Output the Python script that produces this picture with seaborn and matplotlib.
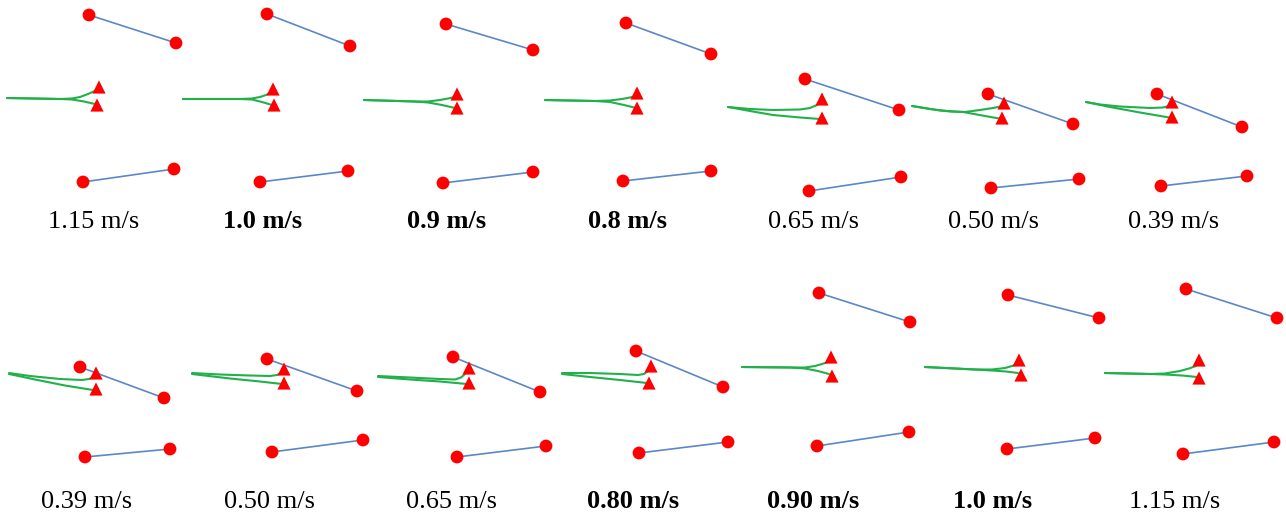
import numpy as np
import pandas as pd
import matplotlib
matplotlib.use("Agg")
import matplotlib.pyplot as plt
import seaborn as sns

# Panel labels (speed) and whether they are printed in bold
labels = ["1.15 m/s", "1.0 m/s", "0.9 m/s", "0.8 m/s", "0.65 m/s", "0.50 m/s", "0.39 m/s",
          "0.39 m/s", "0.50 m/s", "0.65 m/s", "0.80 m/s", "0.90 m/s", "1.0 m/s", "1.15 m/s"]
bold = [False, True, True, True, False, False, False,
        False, False, False, True, True, True, False]
label_x = [94, 263, 447, 627, 813, 994, 1174, 87, 270, 451, 633, 813, 993, 1175]
label_y = [222] * 7 + [502] * 7

# Upper segment (blue) end points, image pixel coords
upper_a = [(89, 15), (267, 14), (446, 24), (626, 23), (805, 79), (988, 94), (1157, 94),
           (80, 367), (267, 359), (453, 357), (636, 351), (819, 293), (1008, 295), (1186, 289)]
upper_b = [(176, 43), (350, 46), (533, 50), (711, 54), (899, 110), (1073, 124), (1242, 127),
           (164, 398), (357, 391), (540, 392), (723, 387), (910, 322), (1099, 318), (1277, 318)]

# Lower segment (blue) end points
lower_a = [(83, 182), (260, 182), (443, 183), (623, 181), (809, 191), (991, 188), (1161, 186),
           (85, 457), (272, 452), (457, 457), (639, 453), (817, 446), (1007, 449), (1183, 454)]
lower_b = [(174, 169), (348, 171), (533, 172), (711, 171), (901, 177), (1079, 179), (1247, 176),
           (170, 449), (363, 440), (546, 446), (728, 442), (909, 432), (1095, 438), (1274, 442)]

# Triangles at the ends of the green branches
tri_top = [(99, 88), (273, 90), (457, 95), (637, 94), (822, 100), (1004, 104), (1172, 103),
           (96, 374), (284, 370), (469, 369), (651, 367), (831, 358), (1019, 361), (1199, 361)]
tri_bot = [(97, 106), (274, 106), (457, 109), (637, 109), (822, 119), (1002, 119), (1172, 118),
           (96, 390), (284, 384), (469, 384), (649, 384), (832, 377), (1021, 376), (1199, 379)]

# Green branches
green_top = [
    [(7, 98), (60, 99), (72, 98.5), (80, 97), (88, 94), (97, 90)],
    [(183, 99), (240, 99), (252, 98.5), (260, 97), (266, 95), (272, 92)],
    [(364, 100), (415, 101.5), (428, 101.5), (440, 100), (448, 98.5), (455, 97)],
    [(545, 100), (595, 101), (610, 100.5), (622, 99), (630, 97.5), (636, 96)],
    [(728, 107), (750, 109), (773, 110), (800, 109.5), (810, 108), (817, 105), (821, 102)],
    [(912, 106), (930, 109), (950, 111.5), (965, 112), (980, 110), (993, 108), (1003, 106)],
    [(1086, 102), (1100, 104.5), (1120, 106.5), (1150, 108), (1163, 107.5), (1169, 106), (1172, 104)],
    [(9, 373), (30, 376), (60, 379), (82, 380), (89, 379), (93, 377), (95, 375)],
    [(192, 373), (220, 374.5), (250, 375.5), (270, 376), (277, 375), (281, 373)],
    [(378, 376), (410, 377.5), (440, 379), (455, 379.5), (461, 377.5), (465, 374), (467, 371)],
    [(562, 373), (590, 373), (620, 374), (638, 375), (644, 374), (648, 371)],
    [(742, 367), (790, 367.5), (805, 367.5), (815, 366), (822, 364), (828, 362)],
    [(925, 367), (975, 369.5), (992, 369.5), (1005, 368), (1012, 366), (1017, 364)],
    [(1105, 373), (1150, 374), (1165, 373.5), (1180, 371), (1189, 368.5), (1196, 366)],
]
green_bot = [
    [(7, 98), (60, 99), (72, 99.5), (84, 101.5), (95, 104)],
    [(183, 99), (240, 99), (252, 99.5), (262, 102), (272, 105)],
    [(364, 100), (415, 101.5), (428, 102.5), (442, 105), (455, 108)],
    [(545, 100), (595, 101), (610, 102), (624, 105), (636, 108)],
    [(728, 107), (750, 111), (773, 115), (800, 117.5), (820, 119)],
    [(912, 106), (940, 110.5), (963, 112), (985, 116), (1002, 119)],
    [(1086, 102), (1110, 107), (1140, 112.5), (1172, 118)],
    [(9, 374), (35, 379.5), (65, 385.5), (93, 390)],
    [(192, 374), (230, 378.5), (260, 381.5), (282, 384)],
    [(378, 377), (410, 379.5), (440, 381.5), (467, 384)],
    [(562, 374), (590, 377), (620, 380), (647, 383)],
    [(742, 367), (790, 367.5), (805, 368.5), (818, 371), (829, 374)],
    [(925, 367), (975, 369.5), (992, 370.5), (1006, 371.5), (1018, 373)],
    [(1105, 373), (1150, 374), (1165, 374.5), (1182, 375.5), (1197, 377)],
]

sns.set_style("white")
plt.rcParams['font.family'] = ['Liberation Serif', 'DejaVu Serif']

fig = plt.figure(figsize=(12.86, 5.22), dpi=100)
ax = fig.add_axes([0, 0, 1, 1])

# blue segments
rows = []
for i in range(len(labels)):
    for k, (a, b) in enumerate([(upper_a[i], upper_b[i]), (lower_a[i], lower_b[i])]):
        rows.append({"x": a[0], "y": a[1], "seg": f"{i}-{k}"})
        rows.append({"x": b[0], "y": b[1], "seg": f"{i}-{k}"})
seg_df = pd.DataFrame(rows)
sns.lineplot(data=seg_df, x="x", y="y", units="seg", estimator=None, sort=False,
             color="#5b87c8", lw=1.2, ax=ax)

# green branches
rows = []
for i in range(len(labels)):
    for k, pts in enumerate([green_top[i], green_bot[i]]):
        for p in pts:
            rows.append({"x": p[0], "y": p[1], "seg": f"{i}-{k}"})
green_df = pd.DataFrame(rows)
sns.lineplot(data=green_df, x="x", y="y", units="seg", estimator=None, sort=False,
             color="#22b04b", lw=1.5, ax=ax)

# red circles and triangles
circ = np.array(upper_a + upper_b + lower_a + lower_b)
tri = np.array(tri_top + tri_bot)
sns.scatterplot(x=circ[:, 0], y=circ[:, 1], marker="o", s=85, color="#ff0000",
                edgecolor="none", ax=ax, zorder=5)
sns.scatterplot(x=tri[:, 0], y=tri[:, 1] - 1, marker="^", s=90, color="#ff0000",
                edgecolor="none", ax=ax, zorder=5)

for lab, x, y, b in zip(labels, label_x, label_y, bold):
    ax.text(x, y, lab, ha="center", va="center", fontsize=19,
            fontweight="bold" if b else "normal", color="black")

ax.set_xlim(0, 1286)
ax.set_ylim(522, 0)
ax.axis("off")

fig.savefig("out.png", dpi=100, facecolor="white")
plt.close()
